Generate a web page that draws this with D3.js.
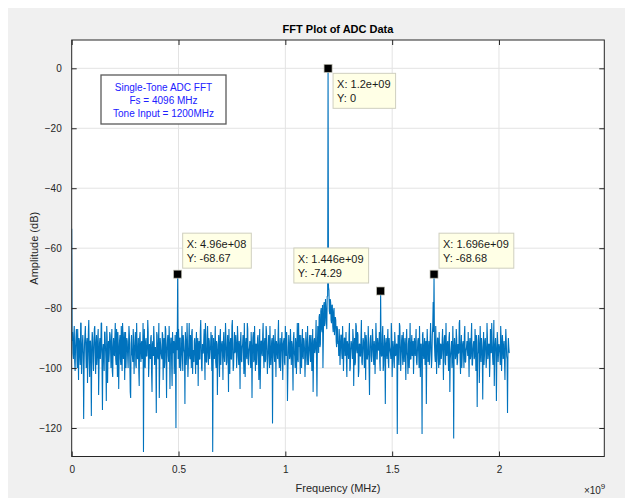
<!DOCTYPE html>
<meta charset="utf-8">
<style>
body { margin: 0; background: #fff; }
text { font-family: "Liberation Sans", Arial, sans-serif; }
.tick text { font-size: 10px; fill: #262626; }
.grid line { stroke: #e3e3e3; stroke-width: 1px; }
.datatip rect.box { fill: #ffffe6; stroke: #cfcfbf; stroke-width: 1px; }
.datatip text { font-size: 11px; fill: #1a1a1a; }
</style>
<body>
<script src="https://d3js.org/d3.v7.min.js"></script>
<script>

// FFT bins in dB.
// noiseDb: bins at 0, 4, 8 ... 2048 MHz ; noiseDbMid: bins at 2, 6, 10 ... 2046 MHz
var binStep = 4e6;
var noiseDb = [
	-53.5, -88, -97, -86, -101, -90, -95, -87, -104, -91, -99, -85, -96, -89, -117, -92,
	-86, -100, -90, -97, -84, -103, -91, -116, -88, -98, -93, -86, -102, -89, -96, -87,
	-99, -90, -94, -85, -114, -92, -101, -88, -97, -86, -105, -91, -95, -89, -100, -87,
	-103, -90, -96, -85, -99, -92, -88, -107, -91, -97, -86, -101, -89, -94, -104, -88,
	-95, -91, -100, -86, -98, -110, -89, -96, -87, -102, -92, -99, -85, -97, -90, -106,
	-88, -98, -91, -95, -128, -87, -100, -90, -96, -84, -103, -92, -97, -89, -108, -91,
	-86, -99, -93, -115, -89, -97, -85, -101, -92, -96, -88, -104, -90, -98, -87, -110,
	-91, -96, -86, -107, -90, -99, -88, -95, -102, -89, -120, -93, -94, -87, -100, -90,
	-97, -86, -101, -91, -95, -88, -99, -85, -103, -92, -96, -89, -100, -87, -94, -98,
	-90, -102, -88, -96, -106, -91, -97, -84, -100, -92, -95, -87, -104, -89, -98, -86,
	-99, -91, -94, -88, -101, -128, -90, -97, -86, -100, -92, -96, -89, -103, -87, -95,
	-91, -104, -88, -98, -85, -99, -93, -96, -87, -102, -90, -97, -84, -101, -92, -95,
	-89, -100, -86, -96, -91, -107, -88, -98, -92, -95, -85, -103, -90, -97, -87, -99,
	-93, -96, -88, -110, -90, -98, -86, -101, -92, -95, -89, -104, -87, -99, -91, -96,
	-85, -100, -90, -97, -88, -102, -93, -95, -86, -99, -91, -118.5, -89, -96, -87, -103,
	-92, -97, -84, -100, -90, -95, -88, -104, -91, -98, -86, -96, -93, -101, -89, -97,
	-87, -99, -92, -107.5, -88, -96, -90, -102, -85, -98, -93, -95, -89, -100, -87, -97,
	-91, -103, -88, -96, -86, -99, -92, -95, -89, -101, -87, -97, -90, -94, -84, -109.5,
	-86, -95, -82, -92, -80, -88, -100, -79, -86, -77, -84, -76, -78, -74, -82, -78,
	-85, -79, -88, -80, -86, -84, -93, -87, -91, -87, -99, -89, -95, -86, -101, -90,
	-96, -88, -103, -92, -97, -85, -100, -91, -94, -87, -106, -90, -98, -86, -95, -89,
	-101, -92, -96, -84, -99, -90, -95, -88, -104, -91, -97, -86, -100, -93, -89, -98,
	-87, -96, -91, -102, -85, -97, -90, -94, -88, -101, -92, -96, -86, -99, -89, -112,
	-90, -97, -87, -100, -93, -95, -85, -103, -91, -98, -88, -96, -92, -122, -89, -99,
	-86, -101, -91, -95, -88, -98, -90, -104, -87, -96, -92, -100, -85, -97, -89, -94,
	-102, -90, -96, -87, -99, -91, -95, -86, -103, -92, -122, -88, -97, -90, -94, -112,
	-87, -98, -91, -95, -85, -100, -89, -78, -93, -96, -86, -102, -90, -97, -88, -99,
	-92, -95, -87, -104, -90, -98, -85, -96, -91, -101, -88, -97, -93, -100, -86, -123.5,
	-90, -97, -87, -99, -92, -95, -84, -102, -89, -96, -91, -100, -86, -98, -93, -94,
	-88, -103, -90, -96, -85, -99, -92, -97, -87, -101, -91, -95, -89, -105, -86, -98,
	-93, -110.5, -88, -96, -90, -100, -85, -97, -92, -103, -87, -95, -91, -99, -84, -96,
	-90, -111, -88, -98, -92, -95, -86, -101, -89, -97, -91, -104, -87, -96, -115, -90,
	-95
];
var noiseDbMid = [
	-91, -95, -89, -98, -93, -87, -100, -94, -90, -96, -85, -102, -92, -95, -99, -89,
	-94, -92, -105, -88, -96, -91, -98, -93, -90, -101, -87, -95, -92, -99, -90, -109,
	-92, -97, -85, -100, -94, -96, -88, -93, -111, -90, -95, -98, -88, -94, -91, -101,
	-93, -95, -90, -97, -87, -103, -92, -96, -89, -99, -94, -85, -97, -88, -95, -100,
	-90, -96, -93, -89, -108, -92, -95, -98, -91, -94, -88, -100, -93, -96, -101, -90,
	-94, -92, -97, -85, -95, -99, -91, -96, -93, -88, -98, -95, -90, -102, -92, -96,
	-91, -94, -99, -88, -96, -92, -110, -90, -95, -97, -89, -93, -100, -86, -96, -94,
	-89, -98, -92, -95, -90, -106, -93, -91, -96, -99, -88, -94, -97, -92, -90, -101,
	-93, -96, -89, -94, -112, -91, -95, -92, -98, -85, -97, -93, -88, -102, -95, -91,
	-96, -92, -99, -90, -94, -97, -88, -93, -101, -95, -91, -96, -85, -98, -94, -92,
	-90, -97, -93, -95, -89, -100, -94, -92, -98, -91, -109, -93, -96, -90, -99, -92,
	-95, -91, -96, -93, -90, -98, -89, -108, -94, -92, -97, -86, -95, -99, -88, -94,
	-92, -96, -90, -99, -94, -91, -97, -93, -89, -102, -95, -92, -96, -85, -98, -94,
	-91, -100, -93, -95, -88, -97, -94, -92, -99, -90, -96, -93, -107, -91, -95, -89,
	-96, -92, -98, -86, -94, -97, -89, -100, -93, -95, -90, -96, -92, -98, -94, -91,
	-95, -89, -97, -93, -101, -91, -96, -92, -90, -99, -94, -88, -111, -95, -92, -96,
	-93, -91, -98, -90, -95, -100, -92, -94, -97, -85, -89, -102, -95, -93, -96, -90,
	-94, -97, -91, -99, -93, -95, -89, -98, -92, -96, -108, -91, -95, -90, -97, -93,
	-90, -83, -93, -81, -87, -79, -90, -78, -85, -80, -87, -76, -73, -81, -77, -84,
	-79, -86, -81, -89, -83, -91, -86, -92, -96, -91, -94, -89, -97, -92, -95, -90,
	-93, -98, -91, -95, -89, -101, -94, -92, -97, -90, -95, -99, -85, -94, -88, -103,
	-92, -96, -90, -98, -94, -91, -100, -93, -89, -97, -95, -92, -109, -90, -96, -94,
	-91, -99, -93, -95, -90, -97, -92, -94, -98, -86, -96, -89, -101, -93, -95, -92,
	-95, -91, -98, -90, -94, -97, -89, -96, -93, -100, -91, -95, -92, -98, -94, -85,
	-93, -96, -89, -99, -94, -92, -97, -91, -95, -102, -90, -94, -97, -92, -96, -91,
	-96, -93, -91, -98, -95, -90, -100, -94, -92, -97, -89, -95, -93, -99, -91, -96,
	-92, -95, -99, -90, -94, -97, -86, -88, -92, -98, -93, -95, -90, -100, -94, -92,
	-97, -91, -95, -93, -89, -99, -94, -92, -96, -90, -108, -95, -91, -97, -93, -95,
	-93, -96, -90, -98, -95, -85, -97, -93, -100, -92, -95, -89, -98, -94, -91, -96,
	-95, -92, -97, -90, -99, -94, -91, -96, -93, -89, -113, -95, -92, -97, -94, -90,
	-96, -93, -99, -91, -94, -97, -90, -95, -92, -98, -94, -85, -96, -93, -106, -92,
	-94, -97, -91, -95, -93, -99, -90, -96, -92, -94, -98, -93, -91, -97, -95, -93
];
//

// tone and spurs (these also carry the data tips)
var spurFreq = [1.2e9, 4.96e8, 1.446e9, 1.696e9];
var spurDb = [0, -68.67, -74.29, -68.68];
var spurLabelX = ["1.2e+09", "4.96e+08", "1.446e+09", "1.696e+09"];
var spurLabelY = ["0", "-68.67", "-74.29", "-68.68"];
var tipSide = ["below-right", "above-right", "above-left", "above-right"];

var xTicks = [0, 0.5e9, 1e9, 1.5e9, 2e9];
var xTickLabels = ["0", "0.5", "1", "1.5", "2"];
var yTicks = [0, -20, -40, -60, -80, -100, -120];

var infoLines = ["Single-Tone ADC FFT", "Fs = 4096 MHz", "Tone Input = 1200MHz"];

// build the line: both bin sets, spur values replace or slot in between bins
var lineData = noiseDb.map(function(v, i) { return {f: i * binStep, db: v}; })
	.concat(noiseDbMid.map(function(v, i) { return {f: i * binStep + binStep / 2, db: v}; }));
spurFreq.forEach(function(f, k) {
	var hit = lineData.find(function(d) { return d.f === f; });
	if (hit) hit.db = spurDb[k];
	else lineData.push({f: f, db: spurDb[k]});
});
lineData.sort(function(a, b) { return a.f - b.f; });
//

var W = 625, H = 498;
var plot = {left: 71.7, right: 604.3, top: 40, bottom: 456.5};

var x = d3.scaleLinear().domain([0, 2.493e9]).range([plot.left, plot.right]);
var y = d3.scaleLinear().domain([9.45, -129.5]).range([plot.top, plot.bottom]);

var svg = d3.select("body").append("svg")
	.attr("width", W)
	.attr("height", H);

// figure background
svg.append("rect")
	.attr("x", 8).attr("y", 8)
	.attr("width", W - 8).attr("height", H - 8)
	.attr("fill", "#f0f0f0");

// axes area
svg.append("rect")
	.attr("x", plot.left).attr("y", plot.top)
	.attr("width", plot.right - plot.left).attr("height", plot.bottom - plot.top)
	.attr("fill", "#fff");

// grid
var grid = svg.append("g").attr("class", "grid");
grid.selectAll(".gx").data(xTicks.slice(1)).enter().append("line")
	.attr("x1", function(d) { return x(d); }).attr("x2", function(d) { return x(d); })
	.attr("y1", plot.top).attr("y2", plot.bottom);
grid.selectAll(".gy").data(yTicks).enter().append("line")
	.attr("y1", function(d) { return y(d); }).attr("y2", function(d) { return y(d); })
	.attr("x1", plot.left).attr("x2", plot.right);
//

// spectrum
svg.append("clipPath").attr("id", "clip").append("rect")
	.attr("x", plot.left).attr("y", plot.top)
	.attr("width", plot.right - plot.left).attr("height", plot.bottom - plot.top);

svg.append("path")
	.datum(lineData)
	.attr("clip-path", "url(#clip)")
	.attr("fill", "none")
	.attr("stroke", "#0072bd")
	.attr("stroke-width", 1.1)
	.attr("stroke-linejoin", "bevel")
	.attr("d", d3.line()
		.x(function(d) { return x(d.f); })
		.y(function(d) { return y(d.db); }));
//

// axes, ticks inside on all four sides (matlab box on)
var tl = 5;
var xAxisB = d3.axisBottom(x).tickValues(xTicks).tickSizeInner(-tl).tickSizeOuter(0)
	.tickPadding(9).tickFormat(function(d, i) { return xTickLabels[i]; });
var xAxisT = d3.axisTop(x).tickValues(xTicks).tickSizeInner(-tl).tickSizeOuter(0).tickFormat("");
var yAxisL = d3.axisLeft(y).tickValues(yTicks).tickSizeInner(-tl).tickSizeOuter(0)
	.tickPadding(10).tickFormat(d3.format("d"));
var yAxisR = d3.axisRight(y).tickValues(yTicks).tickSizeInner(-tl).tickSizeOuter(0).tickFormat("");

function styleAxis(g) {
	g.select(".domain").remove();
	g.selectAll(".tick line").attr("stroke", "#262626");
	g.selectAll(".tick text").attr("font-family", null).attr("font-size", null);
}
svg.append("g").attr("transform", "translate(0," + plot.bottom + ")").call(xAxisB).call(styleAxis);
svg.append("g").attr("transform", "translate(0," + plot.top + ")").call(xAxisT).call(styleAxis);
svg.append("g").attr("transform", "translate(" + plot.left + ",0)").call(yAxisL).call(styleAxis);
svg.append("g").attr("transform", "translate(" + plot.right + ",0)").call(yAxisR).call(styleAxis);

svg.append("rect")
	.attr("x", plot.left).attr("y", plot.top)
	.attr("width", plot.right - plot.left).attr("height", plot.bottom - plot.top)
	.attr("fill", "none").attr("stroke", "#262626").attr("stroke-width", 1);
//

// labels
svg.append("text")
	.attr("x", (plot.left + plot.right) / 2).attr("y", 33)
	.attr("text-anchor", "middle")
	.attr("font-size", "11px").attr("font-weight", "bold").attr("fill", "#000")
	.text("FFT Plot of ADC Data");

svg.append("text")
	.attr("x", (plot.left + plot.right) / 2).attr("y", 492)
	.attr("text-anchor", "middle")
	.attr("font-size", "11px").attr("fill", "#262626")
	.text("Frequency (MHz)");

svg.append("text")
	.attr("transform", "translate(38," + (plot.top + plot.bottom) / 2 + ") rotate(-90)")
	.attr("text-anchor", "middle")
	.attr("font-size", "11px").attr("fill", "#262626")
	.text("Amplitude (dB)");

var expo = svg.append("text")
	.attr("x", plot.right + 1).attr("y", 494)
	.attr("text-anchor", "end")
	.attr("font-size", "10px").attr("fill", "#262626");
expo.append("tspan").text("\u00d710");
expo.append("tspan").attr("dy", -5).attr("font-size", "8px").text("9");
//

// info text box
var info = svg.append("g").attr("transform", "translate(101,75)");
info.append("rect")
	.attr("width", 125).attr("height", 49)
	.attr("fill", "#fff").attr("stroke", "#5a5a5a").attr("stroke-width", 1.3);
info.selectAll("text").data(infoLines).enter().append("text")
	.attr("x", 62.5)
	.attr("y", function(d, i) { return 15.5 + i * 13.3; })
	.attr("text-anchor", "middle")
	.attr("font-size", "10px").attr("fill", "#2020ff")
	.text(function(d) { return d; });
//

// data tips
spurFreq.forEach(function(f, k) {
	var px = x(f), py = y(spurDb[k]);
	var tip = svg.append("g").attr("class", "datatip");
	var rect = tip.append("rect").attr("class", "box");
	var t1 = tip.append("text").text("X: " + spurLabelX[k]);
	var t2 = tip.append("text").text("Y: " + spurLabelY[k]);
	var w = Math.max(t1.node().getComputedTextLength(), t2.node().getComputedTextLength()) + 9;
	var h = 35;
	var bx, by;
	if (tipSide[k] === "below-right") { bx = px + 5; by = py + 5; }
	else if (tipSide[k] === "above-right") { bx = px + 5; by = py - 6 - h; }
	else { bx = px - 12 - w; by = py - 8 - h; }
	rect.attr("x", bx).attr("y", by).attr("width", w).attr("height", h);
	t1.attr("x", bx + 4).attr("y", by + 15);
	t2.attr("x", bx + 4).attr("y", by + 28.5);
	tip.append("rect")
		.attr("x", px - 4).attr("y", py - 4)
		.attr("width", 8).attr("height", 8)
		.attr("fill", "#000").attr("stroke", "#bdbdb0").attr("stroke-width", 0.7);
});
//

</script>
</body>
